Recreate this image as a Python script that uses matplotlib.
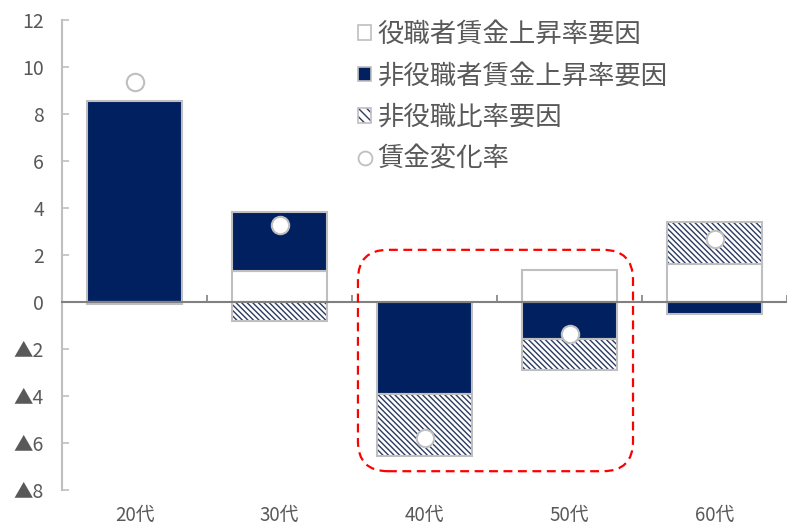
import matplotlib
matplotlib.use("Agg")
import matplotlib.pyplot as plt
from matplotlib.patches import Patch, FancyBboxPatch
from matplotlib.lines import Line2D
from matplotlib.legend_handler import HandlerTuple
from matplotlib.transforms import IdentityTransform
import numpy as np

plt.rcParams['font.family'] = ['Liberation Sans Narrow', 'Noto Sans CJK JP', 'DejaVu Sans']

# Age groups and wage-change decomposition (percent points)
categories = ["20代", "30代", "40代", "50代", "60代"]
manager_wage = [0.0, 1.34, 0.0, 1.36, 1.62]        # 役職者賃金上昇率要因
nonmanager_wage = [8.54, 2.47, -3.9, -1.58, -0.5]  # 非役職者賃金上昇率要因
nonmanager_ratio = [-0.1, -0.8, -2.65, -1.32, 1.8] # 非役職比率要因
wage_change = [9.35, 3.28, -5.8, -1.35, 2.7]       # 賃金変化率

yticks = [12, 10, 8, 6, 4, 2, 0, -2, -4, -6, -8]
ytick_labels = ["12", "10", "8", "6", "4", "2", "0", "▲2", "▲4", "▲6", "▲8"]

labels = ["役職者賃金上昇率要因", "非役職者賃金上昇率要因", "非役職比率要因", "賃金変化率"]

NAVY = "#002060"
EDGE = "#bfbfbf"
HATCH_C = "#2b3a60"
TEXT = "#595959"
HATCH = "\\" * 6

plt.rcParams['hatch.linewidth'] = 1.0

fig = plt.figure(figsize=(7.87, 5.27), dpi=100)
ax = fig.add_axes([62 / 787, 37 / 527, 725 / 787, 470 / 527])

x = np.arange(len(categories))
width = 0.66

# stack positive parts upward and negative parts downward
pos_base = np.zeros(len(x))
neg_base = np.zeros(len(x))


def stacked(vals):
    vals = np.asarray(vals, dtype=float)
    bottoms = np.where(vals >= 0, pos_base, neg_base)
    pos_base[:] += np.where(vals >= 0, vals, 0)
    neg_base[:] += np.where(vals < 0, vals, 0)
    return vals, bottoms


v, b = stacked(manager_wage)
mask = v != 0
ax.bar(x[mask], v[mask], width, bottom=b[mask], facecolor="white",
       edgecolor=EDGE, linewidth=1.5, zorder=2)

v, b = stacked(nonmanager_wage)
ax.bar(x, v, width, bottom=b, facecolor=NAVY, edgecolor=EDGE,
       linewidth=1.5, zorder=2)

v, b = stacked(nonmanager_ratio)
ax.bar(x, v, width, bottom=b, facecolor="white", edgecolor=HATCH_C,
       hatch=HATCH, linewidth=0, zorder=2)
ax.bar(x, v, width, bottom=b, fill=False, edgecolor=EDGE,
       linewidth=1.5, zorder=2.1)

ax.plot(x, wage_change, linestyle="none", marker="o", markersize=12.5,
        markerfacecolor="white", markeredgecolor=EDGE, markeredgewidth=1.5,
        zorder=4)

ax.set_xlim(-0.5, 4.466)
ax.set_ylim(-8, 12)

# axes styling
for s in ["top", "right"]:
    ax.spines[s].set_visible(False)
ax.spines["left"].set_color(EDGE)
ax.spines["left"].set_linewidth(1.5)
ax.spines["bottom"].set_position(("data", 0))
ax.spines["bottom"].set_color("#808080")
ax.spines["bottom"].set_linewidth(1.5)
ax.spines["bottom"].set_zorder(3)

ax.set_yticks(yticks)
ax.set_yticklabels(ytick_labels)
ax.tick_params(axis="y", direction="in", length=5, color=EDGE, width=1.2,
               labelsize=14, labelcolor=TEXT, pad=13)

ax.set_xticks(np.arange(len(categories) + 1) - 0.5)
ax.set_xticklabels([])
ax.tick_params(axis="x", direction="in", length=5, color="#808080", width=1.2)

sec = ax.secondary_xaxis("bottom")
sec.set_xticks(x)
sec.set_xticklabels(categories)
sec.tick_params(length=0, labelsize=13.5, labelcolor=TEXT, pad=11)
sec.spines["bottom"].set_visible(False)

# highlight around the 40s and 50s
fig.canvas.draw()
(x0, y0) = ax.transData.transform((1.541, -7.2))
(x1, y1) = ax.transData.transform((3.438, 2.22))
box = FancyBboxPatch((x0, y0), x1 - x0, y1 - y0,
                     boxstyle="round,pad=0,rounding_size=30",
                     transform=IdentityTransform(), fill=False,
                     edgecolor="#ff0000", linewidth=1.6,
                     linestyle=(0, (4, 2.5)), zorder=5, clip_on=False)
fig.patches.append(box)
box.set_figure(fig)

handles = [
    Patch(facecolor="white", edgecolor=EDGE, linewidth=1.2),
    Patch(facecolor=NAVY, edgecolor=EDGE, linewidth=1.2),
    (Patch(facecolor="white", edgecolor=HATCH_C, hatch="\\" * 4, linewidth=0),
     Patch(fill=False, edgecolor=EDGE, linewidth=1.2)),
    Line2D([], [], linestyle="none", marker="o", markersize=10,
           markerfacecolor="white", markeredgecolor=EDGE, markeredgewidth=1.3),
]
leg = ax.legend(handles, labels, loc="upper left", bbox_to_anchor=(0.376, 1.048),
                frameon=False, handlelength=0.48, handleheight=0.48,
                handletextpad=0.25, labelspacing=0.54, labelcolor=TEXT,
                handler_map={tuple: HandlerTuple(ndivide=1, pad=0)},
                prop={"family": ["Noto Sans CJK JP"], "size": 19})

fig.savefig("out.png", dpi=100)
